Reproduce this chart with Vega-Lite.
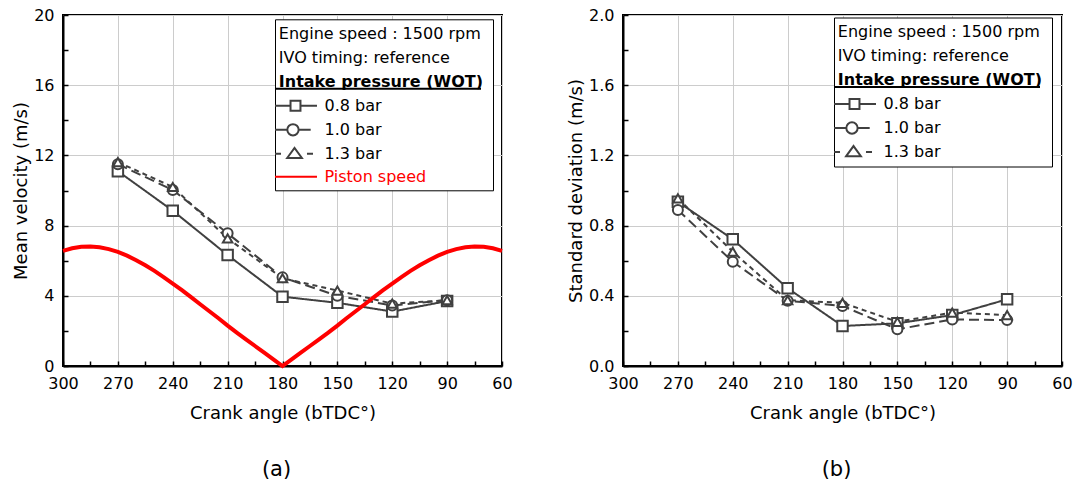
{
  "$schema": "https://vega.github.io/schema/vega-lite/v6.json",
  "padding": {"left": 11, "top": 6, "right": 0, "bottom": 0},
  "background": "white",
  "datasets": {
    "mv": [
      {"angle": 270, "p": "0.8 bar", "val": 11.1},
      {"angle": 240, "p": "0.8 bar", "val": 8.85},
      {"angle": 210, "p": "0.8 bar", "val": 6.32},
      {"angle": 180, "p": "0.8 bar", "val": 3.95},
      {"angle": 150, "p": "0.8 bar", "val": 3.6},
      {"angle": 120, "p": "0.8 bar", "val": 3.1},
      {"angle": 90, "p": "0.8 bar", "val": 3.7},
      {"angle": 270, "p": "1.0 bar", "val": 11.5},
      {"angle": 240, "p": "1.0 bar", "val": 10.03},
      {"angle": 210, "p": "1.0 bar", "val": 7.56},
      {"angle": 180, "p": "1.0 bar", "val": 5.05},
      {"angle": 150, "p": "1.0 bar", "val": 4.0},
      {"angle": 120, "p": "1.0 bar", "val": 3.45},
      {"angle": 90, "p": "1.0 bar", "val": 3.75},
      {"angle": 270, "p": "1.3 bar", "val": 11.62},
      {"angle": 240, "p": "1.3 bar", "val": 10.2},
      {"angle": 210, "p": "1.3 bar", "val": 7.27},
      {"angle": 180, "p": "1.3 bar", "val": 5.0},
      {"angle": 150, "p": "1.3 bar", "val": 4.3},
      {"angle": 120, "p": "1.3 bar", "val": 3.55},
      {"angle": 90, "p": "1.3 bar", "val": 3.75}
    ],
    "sd": [
      {"angle": 270, "p": "0.8 bar", "val": 0.936},
      {"angle": 240, "p": "0.8 bar", "val": 0.722},
      {"angle": 210, "p": "0.8 bar", "val": 0.443},
      {"angle": 180, "p": "0.8 bar", "val": 0.228},
      {"angle": 150, "p": "0.8 bar", "val": 0.243},
      {"angle": 120, "p": "0.8 bar", "val": 0.29},
      {"angle": 90, "p": "0.8 bar", "val": 0.38},
      {"angle": 270, "p": "1.0 bar", "val": 0.889},
      {"angle": 240, "p": "1.0 bar", "val": 0.594},
      {"angle": 210, "p": "1.0 bar", "val": 0.372},
      {"angle": 180, "p": "1.0 bar", "val": 0.342},
      {"angle": 150, "p": "1.0 bar", "val": 0.209},
      {"angle": 120, "p": "1.0 bar", "val": 0.265},
      {"angle": 90, "p": "1.0 bar", "val": 0.262},
      {"angle": 270, "p": "1.3 bar", "val": 0.955},
      {"angle": 240, "p": "1.3 bar", "val": 0.651},
      {"angle": 210, "p": "1.3 bar", "val": 0.375},
      {"angle": 180, "p": "1.3 bar", "val": 0.36},
      {"angle": 150, "p": "1.3 bar", "val": 0.252},
      {"angle": 120, "p": "1.3 bar", "val": 0.304},
      {"angle": 90, "p": "1.3 bar", "val": 0.29}
    ],
    "piston": [
      {"angle": 60, "val": 6.56}, {"angle": 65, "val": 6.71}, {"angle": 70, "val": 6.8},
      {"angle": 75, "val": 6.81}, {"angle": 80, "val": 6.77}, {"angle": 85, "val": 6.66},
      {"angle": 90, "val": 6.5}, {"angle": 95, "val": 6.29}, {"angle": 100, "val": 6.03},
      {"angle": 105, "val": 5.74}, {"angle": 110, "val": 5.42}, {"angle": 115, "val": 5.07},
      {"angle": 120, "val": 4.7}, {"angle": 125, "val": 4.32}, {"angle": 130, "val": 3.92},
      {"angle": 135, "val": 3.52}, {"angle": 140, "val": 3.12}, {"angle": 145, "val": 2.72},
      {"angle": 150, "val": 2.3}, {"angle": 155, "val": 1.9}, {"angle": 160, "val": 1.52},
      {"angle": 165, "val": 1.14}, {"angle": 170, "val": 0.76}, {"angle": 175, "val": 0.38},
      {"angle": 180, "val": 0},
      {"angle": 185, "val": 0.38}, {"angle": 190, "val": 0.76}, {"angle": 195, "val": 1.14},
      {"angle": 200, "val": 1.52}, {"angle": 205, "val": 1.9}, {"angle": 210, "val": 2.3},
      {"angle": 215, "val": 2.72}, {"angle": 220, "val": 3.12}, {"angle": 225, "val": 3.52},
      {"angle": 230, "val": 3.92}, {"angle": 235, "val": 4.32}, {"angle": 240, "val": 4.7},
      {"angle": 245, "val": 5.07}, {"angle": 250, "val": 5.42}, {"angle": 255, "val": 5.74},
      {"angle": 260, "val": 6.03}, {"angle": 265, "val": 6.29}, {"angle": 270, "val": 6.5},
      {"angle": 275, "val": 6.66}, {"angle": 280, "val": 6.77}, {"angle": 285, "val": 6.81},
      {"angle": 290, "val": 6.8}, {"angle": 295, "val": 6.71}, {"angle": 300, "val": 6.56}
    ],
    "legA": [
      {"entry": "Engine speed : 1500 rpm"},
      {"entry": "IVO timing: reference"},
      {"entry": "Intake pressure (WOT)"},
      {"entry": "0.8 bar"},
      {"entry": "1.0 bar"},
      {"entry": "1.3 bar"},
      {"entry": "Piston speed"}
    ],
    "legB": [
      {"entry": "Engine speed : 1500 rpm"},
      {"entry": "IVO timing: reference"},
      {"entry": "Intake pressure (WOT)"},
      {"entry": "0.8 bar"},
      {"entry": "1.0 bar"},
      {"entry": "1.3 bar"}
    ]
  },
  "hconcat": [
    {
      "width": 439,
      "height": 351,
      "title": {"text": "(a)", "orient": "bottom", "frame": "group", "offset": 37, "dx": -6},
      "encoding": {
        "x": {
          "field": "angle", "type": "quantitative",
          "scale": {"domain": [60, 300], "reverse": true, "nice": false, "zero": false},
          "axis": {
            "title": "Crank angle (bTDC°)",
            "values": [300, 285, 270, 255, 240, 225, 210, 195, 180, 165, 150, 135, 120, 105, 90, 75, 60],
            "labelExpr": "datum.value % 30 === 0 ? datum.label : ''",
            "tickSize": -5,
            "gridOpacity": {"condition": {"test": "datum.value % 30 === 0", "value": 1}, "value": 0},
            "labelPadding": 14, "titlePadding": 13, "labelFlush": false, "labelOverlap": false
          }
        },
        "y": {
          "field": "val", "type": "quantitative",
          "scale": {"domain": [0, 20], "nice": false},
          "axis": {
            "title": "Mean velocity (m/s)",
            "values": [0, 2, 4, 6, 8, 10, 12, 14, 16, 18, 20],
            "labelExpr": "datum.value % 4 === 0 ? datum.label : ''",
            "tickSize": -5,
            "gridOpacity": {"condition": {"test": "datum.value % 4 === 0", "value": 1}, "value": 0},
            "labelPadding": 14, "titlePadding": 3, "labelFlush": false, "labelOverlap": false
          }
        }
      },
      "layer": [
        {
          "data": {"name": "mv"},
          "mark": {"type": "line", "color": "#404040", "strokeWidth": 2},
          "encoding": {
            "strokeDash": {"field": "p", "type": "nominal", "scale": {"domain": ["0.8 bar", "1.0 bar", "1.3 bar"], "range": [[1, 0], [10, 5], [5, 4]]}, "legend": null}
          }
        },
        {
          "data": {"name": "mv"},
          "mark": {"type": "point", "filled": true, "fill": "white", "stroke": "#404040", "strokeWidth": 2, "opacity": 1},
          "encoding": {
            "shape": {"field": "p", "type": "nominal", "scale": {"domain": ["0.8 bar", "1.0 bar", "1.3 bar"], "range": ["square", "circle", "triangle-up"]}, "legend": null},
            "size": {"field": "p", "type": "nominal", "scale": {"domain": ["0.8 bar", "1.0 bar", "1.3 bar"], "range": [110, 90, 150]}, "legend": null}
          }
        },
        {
          "data": {"name": "piston"},
          "mark": {"type": "line", "color": "#ff0000", "strokeWidth": 4},
          "encoding": {}
        },
        {
          "data": {"name": "legA"},
          "mark": {
            "type": "point", "filled": true, "fill": "white", "opacity": 1, "strokeJoin": "round",
            "stroke": {"expr": "datum.value === 'Piston speed' ? '#ff0000' : datum.value === 'Intake pressure (WOT)' ? '#000000' : '#404040'"},
            "strokeWidth": {"expr": "datum.value === 'Piston speed' ? 4 : 2"}
          },
          "encoding": {
            "shape": {
              "field": "entry", "type": "nominal",
              "scale": {
                "domain": ["Engine speed : 1500 rpm", "IVO timing: reference", "Intake pressure (WOT)", "0.8 bar", "1.0 bar", "1.3 bar", "Piston speed"],
                "range": [
                  "M0,-1.07M0,1.07",
                  "M0,-1.07M0,1.07",
                  "M-2.93,1H26.5M0,-1.07M0,1.07M27.2,0",
                  "M-2.93,0H-0.71M0.71,0H3.07M-0.71,-0.71H0.71V0.71H-0.71ZM0,-1.07M0,1.07",
                  "M-2.93,0H-1.17M0.45,0H2.17M-1.17,0A0.81,0.81,0,1,0,0.45,0A0.81,0.81,0,1,0,-1.17,0ZM0,-1.07M0,1.07",
                  "M-2.93,0H-2.07M1.64,0H2.5M-1.19,0.6L-0.14,-0.85L0.91,0.6ZM0,-1.07M0,1.07",
                  "M-2.93,0H3.07M0,-1.0M0,1.0"
                ]
              },
              "legend": {
                "orient": "none", "legendX": 212, "legendY": 4.3, "title": " ",
                "titleFontSize": 2, "titlePadding": 2,
                "symbolOffset": 10,
                "labelFontWeight": {"expr": "datum.value === 'Intake pressure (WOT)' ? 'bold' : 'normal'"},
                "labelColor": {"expr": "datum.value === 'Piston speed' ? '#ff0000' : '#000000'"},
                "labelOffset": {"expr": "indexof(['Engine speed : 1500 rpm', 'IVO timing: reference', 'Intake pressure (WOT)'], datum.value) >= 0 ? -24.7 : 21"}
              }
            }
          }
        }
      ],
      "resolve": {"scale": {"shape": "independent", "size": "independent"}}
    },
    {
      "width": 439,
      "height": 351,
      "title": {"text": "(b)", "orient": "bottom", "frame": "group", "offset": 37, "dx": -6},
      "encoding": {
        "x": {
          "field": "angle", "type": "quantitative",
          "scale": {"domain": [60, 300], "reverse": true, "nice": false, "zero": false},
          "axis": {
            "title": "Crank angle (bTDC°)",
            "values": [300, 285, 270, 255, 240, 225, 210, 195, 180, 165, 150, 135, 120, 105, 90, 75, 60],
            "labelExpr": "datum.value % 30 === 0 ? datum.label : ''",
            "tickSize": -5,
            "gridOpacity": {"condition": {"test": "datum.value % 30 === 0", "value": 1}, "value": 0},
            "labelPadding": 14, "titlePadding": 13, "labelFlush": false, "labelOverlap": false
          }
        },
        "y": {
          "field": "val", "type": "quantitative",
          "scale": {"domain": [0, 2], "nice": false},
          "axis": {
            "title": "Standard deviation (m/s)",
            "values": [0, 0.2, 0.4, 0.6, 0.8, 1.0, 1.2, 1.4, 1.6, 1.8, 2.0],
            "format": ".1f",
            "labelExpr": "round(datum.value * 10) % 4 === 0 ? datum.label : ''",
            "tickSize": -5,
            "gridOpacity": {"condition": {"test": "round(datum.value * 10) % 4 === 0", "value": 1}, "value": 0},
            "labelPadding": 14, "titlePadding": 3, "labelFlush": false, "labelOverlap": false
          }
        }
      },
      "layer": [
        {
          "data": {"name": "sd"},
          "mark": {"type": "line", "color": "#404040", "strokeWidth": 2},
          "encoding": {
            "strokeDash": {"field": "p", "type": "nominal", "scale": {"domain": ["0.8 bar", "1.0 bar", "1.3 bar"], "range": [[1, 0], [10, 5], [5, 4]]}, "legend": null}
          }
        },
        {
          "data": {"name": "sd"},
          "mark": {"type": "point", "filled": true, "fill": "white", "stroke": "#404040", "strokeWidth": 2, "opacity": 1},
          "encoding": {
            "shape": {"field": "p", "type": "nominal", "scale": {"domain": ["0.8 bar", "1.0 bar", "1.3 bar"], "range": ["square", "circle", "triangle-up"]}, "legend": null},
            "size": {"field": "p", "type": "nominal", "scale": {"domain": ["0.8 bar", "1.0 bar", "1.3 bar"], "range": [110, 90, 150]}, "legend": null}
          }
        },
        {
          "data": {"name": "legB"},
          "mark": {
            "type": "point", "filled": true, "fill": "white", "opacity": 1, "strokeJoin": "round",
            "stroke": {"expr": "datum.value === 'Intake pressure (WOT)' ? '#000000' : '#404040'"},
            "strokeWidth": 2
          },
          "encoding": {
            "shape": {
              "field": "entry", "type": "nominal",
              "scale": {
                "domain": ["Engine speed : 1500 rpm", "IVO timing: reference", "Intake pressure (WOT)", "0.8 bar", "1.0 bar", "1.3 bar"],
                "range": [
                  "M0,-1.07M0,1.07",
                  "M0,-1.07M0,1.07",
                  "M-2.93,1H26.5M0,-1.07M0,1.07M27.2,0",
                  "M-2.93,0H-0.71M0.71,0H3.07M-0.71,-0.71H0.71V0.71H-0.71ZM0,-1.07M0,1.07",
                  "M-2.93,0H-1.17M0.45,0H2.17M-1.17,0A0.81,0.81,0,1,0,0.45,0A0.81,0.81,0,1,0,-1.17,0ZM0,-1.07M0,1.07",
                  "M-2.93,0H-2.07M1.64,0H2.5M-1.19,0.6L-0.14,-0.85L0.91,0.6ZM0,-1.07M0,1.07"
                ]
              },
              "legend": {
                "orient": "none", "legendX": 211, "legendY": 2.5, "title": " ",
                "titleFontSize": 2, "titlePadding": 2,
                "symbolOffset": 10,
                "labelFontWeight": {"expr": "datum.value === 'Intake pressure (WOT)' ? 'bold' : 'normal'"},
                "labelOffset": {"expr": "indexof(['Engine speed : 1500 rpm', 'IVO timing: reference', 'Intake pressure (WOT)'], datum.value) >= 0 ? -24.7 : 21"}
              }
            }
          }
        }
      ],
      "resolve": {"scale": {"shape": "independent", "size": "independent"}}
    }
  ],
  "spacing": 52,
  "config": {
    "font": "DejaVu Sans",
    "view": {"stroke": "#000000", "strokeWidth": 2},
    "axis": {
      "labelFont": "DejaVu Sans", "labelFontSize": 16, "labelColor": "#000000",
      "titleFont": "DejaVu Sans", "titleFontSize": 18, "titleFontWeight": "normal", "titleColor": "#000000",
      "domainColor": "#000000", "domainWidth": 2, "tickColor": "#000000", "tickWidth": 1.5,
      "gridColor": "#cccccc", "gridWidth": 1
    },
    "legend": {
      "labelFont": "DejaVu Sans", "labelFontSize": 16, "labelColor": "#000000", "labelLimit": 0, "labelOffset": 19,
      "symbolSize": 196, "symbolStrokeWidth": 2, "rowPadding": 0, "padding": 2.5,
      "strokeColor": "#000000", "fillColor": "#ffffff"
    },
    "title": {"font": "DejaVu Sans", "fontSize": 21, "fontWeight": "normal", "color": "#000000"}
  }
}
